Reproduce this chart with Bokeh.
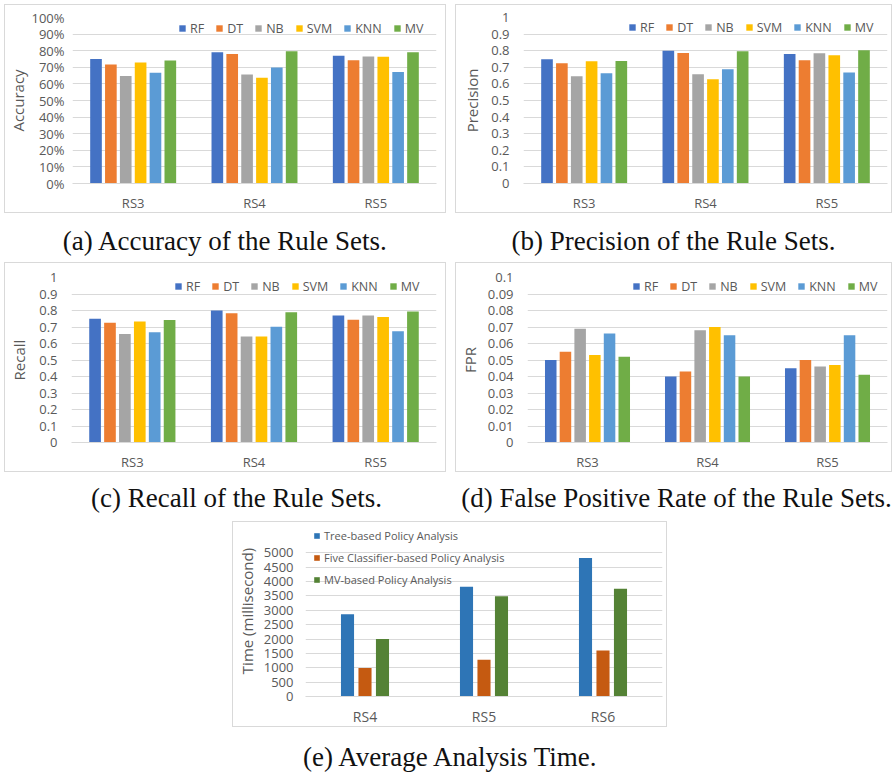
from bokeh.plotting import figure
from bokeh.layouts import column, row
from bokeh.models import (ColumnDataSource, FactorRange, FixedTicker, Legend, LegendItem,
                          Label, NumeralTickFormatter, Spacer, Range1d)
from bokeh.transform import dodge
from bokeh.embed import file_html
from bokeh.resources import INLINE

# ---------------- data ----------------
rule_sets = ["RS3", "RS4", "RS5"]
classifiers = ["RF", "DT", "NB", "SVM", "KNN", "MV"]
classifier_colors = ["#4472C4", "#ED7D31", "#A5A5A5", "#FFC000", "#5B9BD5", "#70AD47"]

accuracy = {"RF": [0.75, 0.79, 0.77], "DT": [0.717, 0.78, 0.743], "NB": [0.647, 0.657, 0.765],
            "SVM": [0.729, 0.637, 0.763], "KNN": [0.667, 0.699, 0.672], "MV": [0.741, 0.797, 0.791]}
precision = {"RF": [0.749, 0.799, 0.78], "DT": [0.724, 0.786, 0.742], "NB": [0.646, 0.658, 0.784],
             "SVM": [0.736, 0.628, 0.772], "KNN": [0.664, 0.688, 0.668], "MV": [0.738, 0.796, 0.802]}
recall = {"RF": [0.75, 0.8, 0.77], "DT": [0.726, 0.784, 0.744], "NB": [0.658, 0.642, 0.77],
          "SVM": [0.734, 0.642, 0.76], "KNN": [0.668, 0.702, 0.674], "MV": [0.742, 0.79, 0.794]}
fpr = {"RF": [0.05, 0.04, 0.045], "DT": [0.055, 0.043, 0.05], "NB": [0.069, 0.068, 0.046],
       "SVM": [0.053, 0.07, 0.047], "KNN": [0.066, 0.065, 0.065], "MV": [0.052, 0.04, 0.041]}

pct_ticks = [0, 0.1, 0.2, 0.3, 0.4, 0.5, 0.6, 0.7, 0.8, 0.9, 1.0]
fpr_ticks = [0, 0.01, 0.02, 0.03, 0.04, 0.05, 0.06, 0.07, 0.08, 0.09, 0.1]

time_sets = ["RS4", "RS5", "RS6"]
time_methods = ["Tree-based Policy Analysis", "Five Classifier-based Policy Analysis",
                "MV-based Policy Analysis"]
time_colors = ["#2E75B6", "#C55A11", "#548235"]
time_tree = [2860, 3820, 4820]
time_five = [990, 1280, 1600]
time_mv = [2000, 3490, 3750]
time_ticks = [0, 500, 1000, 1500, 2000, 2500, 3000, 3500, 4000, 4500, 5000]

captions = ["(a) Accuracy of the Rule Sets.", "(b) Precision of the Rule Sets.",
            "(c) Recall of the Rule Sets.", "(d) False Positive Rate of the Rule Sets.",
            "(e) Average Analysis Time."]

# ---------------- style ----------------
GRID = "#d9d9d9"
TXT = "#595959"
FONT = "Open Sans"
SERIF = "Liberation Serif"


def make_panel(box, frame, factors, names, values, colors, ticks, y_end, fmt, ylabel,
               bar_step, bar_w, ystand, title_stand, xstand, legend_loc, orientation,
               legend_font, label_h, spacing, glyph, tick_font="13px", xlab_font="13px"):
    x0, y0, x1, y1 = box
    fx0, fy0, fx1, fy1 = frame
    p = figure(width=x1 - x0, height=y1 - y0,
               x_range=FactorRange(*factors), y_range=Range1d(0, y_end),
               output_backend="svg", toolbar_location=None,
               min_border_left=fx0 - (x0 + 1), min_border_right=(x1 - 1) - fx1,
               min_border_top=fy0 - (y0 + 1), min_border_bottom=(y1 - 1) - fy1,
               styles={"border": f"1px solid {GRID}"})
    data = {"x": factors}
    for i, v in enumerate(values):
        data[f"s{i}"] = v
    src = ColumnDataSource(data)
    n = len(names)
    items = []
    for i, (nm, col) in enumerate(zip(names, colors)):
        off = (i - (n - 1) / 2) * bar_step
        r = p.vbar(x=dodge("x", off, range=p.x_range), top=f"s{i}", width=bar_w,
                   source=src, fill_color=col, line_color=None)
        items.append(LegendItem(label=nm, renderers=[r]))
    leg = Legend(items=items, location=legend_loc, orientation=orientation, padding=0,
                 spacing=spacing, label_standoff=4, glyph_width=glyph, glyph_height=glyph,
                 label_width=0, label_height=label_h, label_text_font=FONT,
                 label_text_font_size=legend_font, label_text_color=TXT,
                 background_fill_alpha=0, border_line_color=None, margin=0)
    p.add_layout(leg)

    p.outline_line_color = None
    p.xgrid.grid_line_color = None
    ticker = FixedTicker(ticks=ticks)
    p.yaxis.ticker = ticker
    p.ygrid.ticker = ticker
    p.ygrid.grid_line_color = GRID
    p.ygrid.grid_line_width = 1
    if fmt is not None:
        p.yaxis.formatter = fmt

    for ax in (p.xaxis[0], p.yaxis[0]):
        ax.major_tick_line_color = None
        ax.minor_tick_line_color = None
        ax.major_tick_out = 0
        ax.major_tick_in = 0
        ax.minor_tick_out = 0
        ax.minor_tick_in = 0
        ax.major_label_text_font = FONT
        ax.major_label_text_color = TXT
    p.xaxis.axis_line_color = GRID
    p.xaxis.major_label_text_font_size = xlab_font
    p.xaxis.major_label_standoff = xstand
    p.yaxis.axis_line_color = None
    p.yaxis.major_label_text_font_size = tick_font
    p.yaxis.major_label_standoff = ystand
    p.yaxis.axis_label = ylabel
    p.yaxis.axis_label_text_font = FONT
    p.yaxis.axis_label_text_font_size = "15px"
    p.yaxis.axis_label_text_font_style = "normal"
    p.yaxis.axis_label_text_color = TXT
    p.yaxis.axis_label_standoff = title_stand
    return p


def caption_strip(width, height, entries):
    p = figure(width=width, height=height, x_range=Range1d(0, width), y_range=Range1d(0, height),
               x_axis_type=None, y_axis_type=None, output_backend="svg",
               toolbar_location=None, min_border=0)
    p.outline_line_color = None
    p.xgrid.grid_line_color = None
    p.ygrid.grid_line_color = None
    for text, cx, cy in entries:
        p.add_layout(Label(x=cx, y=height - cy, text=text, text_align="center",
                           text_baseline="middle", text_font=SERIF,
                           text_font_size="27px", text_color="#111111"))
    return p


pct_fmt = NumeralTickFormatter(format="0%")
dec_fmt = NumeralTickFormatter(format="0.[00]")

step6, w6 = 0.1225, 0.096

pa = make_panel((4, 4, 446, 213), (71, 17, 434, 184), rule_sets, classifiers,
                [accuracy[c] for c in classifiers], classifier_colors, pct_ticks, 1.0, pct_fmt,
                "Accuracy", step6, w6, 8, 0, 10, (106, 145), "horizontal", "12.5px", 20, 11, 8)
pb = make_panel((455, 4, 892, 213), (523, 17, 885, 184), rule_sets, classifiers,
                [precision[c] for c in classifiers], classifier_colors, pct_ticks, 1.0, dec_fmt,
                "Precision", step6, w6, 14, 6, 10, (105, 146), "horizontal", "12.5px", 20, 11, 8)
pc = make_panel((4, 262, 446, 472), (71, 277, 434, 443), rule_sets, classifiers,
                [recall[c] for c in classifiers], classifier_colors, pct_ticks, 1.0, dec_fmt,
                "Recall", step6, w6, 14, 7, 10, (103, 146), "horizontal", "12.5px", 20, 11, 8)
pd_ = make_panel((455, 262, 892, 472), (523, 277, 885, 443), rule_sets, classifiers,
                 [fpr[c] for c in classifiers], classifier_colors, fpr_ticks, 0.1, dec_fmt,
                 "FPR", step6, w6, 14, 5, 10, (105, 146), "horizontal", "12.5px", 20, 11, 8)
pe = make_panel((232, 521, 667, 727), (304, 525, 660, 700), time_sets, time_methods,
                [time_tree, time_five, time_mv], time_colors, time_ticks, 5950, None,
                "Time (millisecond)", 0.147, 0.11, 12, 4, 10, (8, 109), "vertical", "11px", 16, 6, 7,
                tick_font="13px", xlab_font="14px")

cap1 = caption_strip(894, 49, [(captions[0], 225, 27), (captions[1], 673, 27)])
cap2 = caption_strip(894, 49, [(captions[2], 236, 25), (captions[3], 676, 25)])
cap3 = caption_strip(894, 46, [(captions[4], 451, 29)])

layout = column(
    Spacer(width=894, height=4),
    row(Spacer(width=4, height=209), pa, Spacer(width=9, height=209), pb),
    cap1,
    row(Spacer(width=4, height=210), pc, Spacer(width=9, height=210), pd_),
    cap2,
    row(Spacer(width=232, height=206), pe),
    cap3,
)

open("out.html", "w").write(file_html(layout, INLINE))
